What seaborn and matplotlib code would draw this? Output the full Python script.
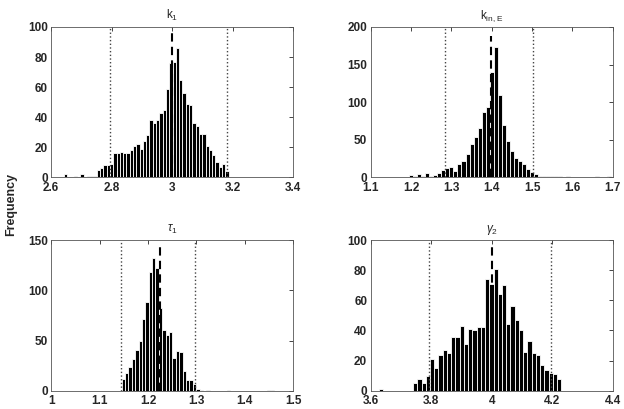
import numpy as np
import pandas as pd
import matplotlib
matplotlib.use('Agg')
import matplotlib.pyplot as plt
import seaborn as sns

sns.set_style('white')
plt.rcParams['font.family'] = ['Liberation Sans', 'DejaVu Sans']
plt.rcParams['mathtext.fontset'] = 'custom'
plt.rcParams['mathtext.rm'] = 'Liberation Sans'
plt.rcParams['mathtext.it'] = 'Liberation Sans:italic'

# k1 histogram
k1_start, k1_width = 2.647, 0.0109
k1_counts = [2, 0, 0, 1, 0, 2, 0, 1, 1, 1, 5, 6, 8, 8,
             9, 16, 16, 17, 16, 16, 18, 21, 22, 19, 24, 28, 38, 36, 38, 43,
             45, 59, 76, 77, 86, 65, 56, 49, 48, 36, 34, 29, 29, 21, 18, 15,
             10, 7, 9, 4]

# k_in,E histogram
kin_start, kin_width = 1.2, 0.01
kin_counts = [3, 1, 4, 2, 6, 2, 3, 6, 9, 12, 13, 8, 18, 22, 31, 44, 54, 66,
              87, 94, 140, 174, 109, 70, 48, 35, 26, 22, 17, 11, 7, 4, 1, 1,
              1, 1, 1, 1, 0, 1, 0, 0, 0, 0, 0, 0, 1, 0, 0, 1]

# tau1 histogram
tau_start, tau_width = 1.149, 0.007
tau_counts = [12, 18, 24, 32, 41, 50, 71, 88, 118, 132, 122, 82, 60, 56, 58,
              33, 40, 39, 20, 11, 11, 7, 2, 1, 0, 1, 0, 0, 0, 0, 0, 1, 0, 0,
              0, 0, 0, 0, 0, 0, 0, 0, 0, 1, 1]

# gamma2 histogram
gam_start, gam_width = 3.635, 0.014
gam_counts = [1, 0, 0, 0, 0, 0, 0, 0, 5, 8, 5, 10, 21, 15, 24, 27, 25, 36,
              36, 43, 31, 41, 40, 42, 42, 74, 71, 81, 64, 70, 44, 56, 47, 40,
              26, 33, 25, 24, 17, 14, 12, 11, 8]

titles = ['k$_1$', 'k$_{\\mathrm{in,E}}$', '$\\tau_\\mathit{1}$', '$\\gamma_2$']
xlims = [(2.6, 3.4), (1.1, 1.7), (1.0, 1.5), (3.6, 4.4)]
xticks = [[2.6, 2.8, 3.0, 3.2, 3.4], [1.1, 1.2, 1.3, 1.4, 1.5, 1.6, 1.7],
          [1.0, 1.1, 1.2, 1.3, 1.4, 1.5], [3.6, 3.8, 4.0, 4.2, 4.4]]
xticklabels = [['2.6', '2.8', '3', '3.2', '3.4'],
               ['1.1', '1.2', '1.3', '1.4', '1.5', '1.6', '1.7'],
               ['1', '1.1', '1.2', '1.3', '1.4', '1.5'],
               ['3.6', '3.8', '4', '4.2', '4.4']]
ymax = [100, 200, 150, 100]
ystep = [20, 50, 50, 20]
centre = [3.0, 1.397, 1.2255, 4.0]
lower = [2.793, 1.285, 1.145, 3.794]
upper = [3.181, 1.502, 1.298, 4.196]
dash_top = [0.99, 0.94, 0.96, 0.955]

hists = [(k1_start, k1_width, k1_counts), (kin_start, kin_width, kin_counts),
         (tau_start, tau_width, tau_counts), (gam_start, gam_width, gam_counts)]

fig, axes = plt.subplots(2, 2, figsize=(6.24, 4.09), dpi=100)
fig.subplots_adjust(left=0.082, right=0.982, bottom=0.045, top=0.934,
                    wspace=0.32, hspace=0.42)

for i, ax in enumerate(axes.flat):
    start, width, counts = hists[i]
    centres = start + width * np.arange(len(counts))
    df = pd.DataFrame({'value': centres, 'count': counts})
    sns.histplot(data=df, x='value', weights='count', binwidth=width,
                 binrange=(centres[0] - width / 2, centres[-1] + width / 2),
                 color='black', edgecolor='white', linewidth=0.6, alpha=1,
                 ax=ax)
    ax.axvline(lower[i], ymin=0, ymax=0.99, color='#444444', ls=':', lw=1.0)
    ax.axvline(upper[i], ymin=0, ymax=0.99, color='#444444', ls=':', lw=1.0)
    ax.axvline(centre[i], ymin=0, ymax=dash_top[i], color='black',
               ls=(0, (4, 2.5)), lw=1.5)
    ax.set_xlim(xlims[i])
    ax.set_ylim(0, ymax[i])
    ax.set_xticks(xticks[i])
    ax.set_xticklabels(xticklabels[i])
    ax.set_yticks(np.arange(0, ymax[i] + 1, ystep[i]))
    ax.set_xlabel('')
    ax.set_ylabel('')
    ax.set_title(titles[i], fontsize=8.5, pad=6)
    ax.tick_params(direction='in', top=True, right=True, length=3,
                   width=0.6, labelsize=8.5)
    ax.tick_params(axis='x', pad=3.5)
    ax.tick_params(axis='y', pad=2.5)
    for lab in ax.get_xticklabels() + ax.get_yticklabels():
        lab.set_fontweight('bold')
    for sp in ax.spines.values():
        sp.set_linewidth(0.6)
        sp.set_color('#555555')

fig.text(0.018, 0.5, 'Frequency', rotation=90, va='center', ha='center',
         fontsize=9, fontweight='bold')

fig.savefig('out.png', dpi=100)
